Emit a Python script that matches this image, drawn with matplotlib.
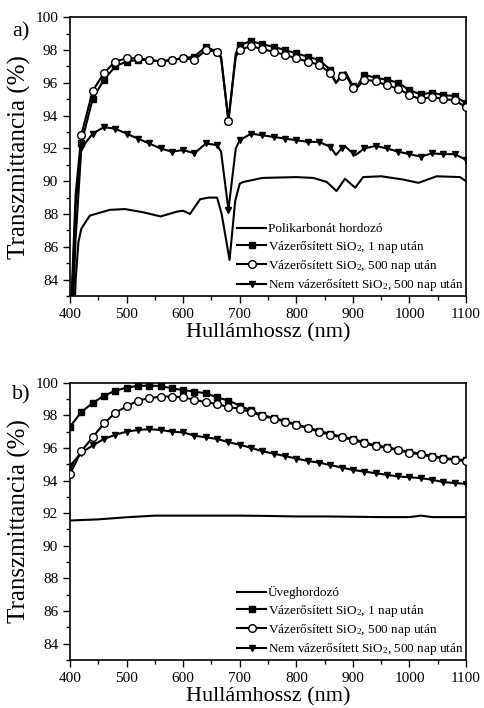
import numpy as np
import matplotlib
matplotlib.use("Agg")
import matplotlib.pyplot as plt
from matplotlib.ticker import MultipleLocator

plt.rcParams['font.family'] = ['Liberation Serif', 'DejaVu Serif']
plt.rcParams['mathtext.fontset'] = 'custom'
plt.rcParams['mathtext.rm'] = 'Liberation Serif'
plt.rcParams['mathtext.default'] = 'regular'

# ---- panel a) polikarbonat ----
wl_a = [400, 410, 420, 440, 460, 480, 500, 520, 540, 560, 580, 600, 620, 640, 660,
        667, 680, 693, 700, 720, 740, 760, 780, 800, 820, 840, 860, 870, 880, 887,
        900, 905, 920, 940, 960, 980, 1000, 1020, 1040, 1060, 1080, 1100]
sq_a = [80.0, 88.5, 92.3, 95.0, 96.2, 97.0, 97.3, 97.4, 97.4, 97.3, 97.4, 97.5, 97.6, 98.2, 97.9,
        97.6, 93.7, 97.8, 98.3, 98.55, 98.35, 98.2, 98.0, 97.8, 97.6, 97.4, 96.8, 96.0, 96.5, 96.65,
        95.8, 95.65, 96.5, 96.3, 96.2, 96.0, 95.55, 95.3, 95.4, 95.25, 95.2, 94.75]
ci_a = [80.5, 89.2, 92.8, 95.5, 96.6, 97.3, 97.5, 97.5, 97.4, 97.3, 97.4, 97.5, 97.4, 98.0, 97.9,
        97.5, 93.7, 97.6, 98.0, 98.25, 98.05, 97.9, 97.7, 97.5, 97.3, 97.1, 96.6, 96.0, 96.4, 96.5,
        95.7, 95.6, 96.2, 96.1, 95.85, 95.65, 95.25, 95.0, 95.15, 95.0, 94.95, 94.5]
tr_a = [78.0, 86.5, 92.0, 92.9, 93.3, 93.2, 92.9, 92.6, 92.3, 92.0, 91.8, 91.9, 91.7, 92.3, 92.2,
        91.8, 88.25, 92.0, 92.5, 92.9, 92.8, 92.7, 92.6, 92.5, 92.4, 92.4, 92.1, 91.6, 92.0, 92.1,
        91.7, 91.6, 92.0, 92.15, 92.0, 91.8, 91.65, 91.5, 91.7, 91.65, 91.65, 91.3]

wl_pc = [400, 405, 410, 415, 420, 435, 470, 497, 530, 560, 590, 600, 612, 630, 645, 660,
         668, 682, 692, 700, 706, 740, 800, 830, 854, 871, 886, 904, 918, 950, 989,
         1016, 1048, 1089, 1100]
pc = [74.0, 79.0, 84.0, 86.3, 87.1, 87.9, 88.25, 88.3, 88.1, 87.85, 88.15, 88.2, 88.0, 88.9, 89.0, 89.0,
      88.0, 85.2, 88.8, 89.85, 89.95, 90.2, 90.25, 90.2, 89.95, 89.4, 90.15, 89.6, 90.25, 90.3, 90.1,
      89.9, 90.3, 90.25, 90.0]

# ---- panel b) uveg ----
wl_b = [400, 420, 440, 460, 480, 500, 520, 540, 560, 580, 600, 620, 640, 660, 680, 700, 720, 740,
        760, 780, 800, 820, 840, 860, 880, 900, 920, 940, 960, 980, 1000, 1020, 1040, 1060, 1080, 1100]
sq_b = [97.3, 98.2, 98.75, 99.2, 99.5, 99.7, 99.8, 99.82, 99.8, 99.65, 99.55, 99.45, 99.35, 99.1, 98.9,
        98.6, 98.3, 98.0, 97.85, 97.65, 97.45, 97.25, 97.05, 96.85, 96.7, 96.55, 96.35, 96.15, 96.05,
        95.9, 95.75, 95.65, 95.5, 95.4, 95.3, 95.25]
ci_b = [94.4, 95.8, 96.65, 97.5, 98.15, 98.55, 98.9, 99.05, 99.15, 99.15, 99.1, 98.95, 98.8, 98.7, 98.5,
        98.4, 98.2, 97.95, 97.8, 97.6, 97.4, 97.2, 97.0, 96.8, 96.65, 96.5, 96.3, 96.1, 96.0, 95.85,
        95.7, 95.6, 95.45, 95.35, 95.25, 95.2]
tr_b = [94.9, 95.7, 96.15, 96.55, 96.8, 97.0, 97.1, 97.15, 97.1, 97.0, 96.95, 96.75, 96.65, 96.55, 96.35,
        96.2, 96.0, 95.8, 95.65, 95.5, 95.35, 95.2, 95.1, 94.95, 94.8, 94.65, 94.55, 94.45, 94.35, 94.25,
        94.2, 94.15, 94.05, 93.9, 93.85, 93.8]
wl_g = [400, 450, 500, 550, 600, 650, 700, 750, 800, 850, 900, 950, 1000, 1020, 1040, 1100]
gl = [91.55, 91.62, 91.75, 91.85, 91.85, 91.85, 91.85, 91.83, 91.8, 91.8, 91.78, 91.76, 91.76, 91.85,
      91.76, 91.76]

lab_a = ['Polikarbonát hordozó', 'Vázerősített SiO$_2$, 1 nap után',
         'Vázerősített SiO$_2$, 500 nap után', 'Nem vázerősített SiO$_2$, 500 nap után']
lab_b = ['Üveghordozó'] + lab_a[1:]

fig = plt.figure(figsize=(4.85, 7.08), dpi=100)
ax1 = fig.add_axes([0.1443, 0.582, 0.8167, 0.3936])
ax2 = fig.add_axes([0.1443, 0.0678, 0.8167, 0.3917])


def marks(wl):
    return [i for i, w in enumerate(wl) if w % 20 == 0]


def panel(ax, wl, sq, ci, tr, wl0, base, labels):
    ax.plot(wl0, base, color='black', lw=1.5, label=labels[0])
    ax.plot(wl, sq, color='black', lw=1.5, marker='s', ms=4.5, markevery=marks(wl), label=labels[1])
    ax.plot(wl, ci, color='black', lw=1.5, marker='o', ms=5.5, mfc='white', mew=1.0,
            markevery=marks(wl), label=labels[2], zorder=3)
    ax.plot(wl, tr, color='black', lw=1.5, marker='v', ms=5, markevery=marks(wl), label=labels[3])
    ax.set_xlim(400, 1100)
    ax.set_ylim(83, 100)
    ax.xaxis.set_major_locator(MultipleLocator(100))
    ax.xaxis.set_minor_locator(MultipleLocator(50))
    ax.yaxis.set_major_locator(MultipleLocator(2))
    ax.yaxis.set_minor_locator(MultipleLocator(1))
    ax.tick_params(which='both', direction='out', labelsize=11, width=1)
    ax.tick_params(which='major', length=5)
    ax.tick_params(which='minor', length=3)
    for s in ax.spines.values():
        s.set_linewidth(1.2)
    ax.set_xlabel('Hullámhossz (nm)', fontsize=16, labelpad=1.5)
    ax.set_ylabel('Transzmittancia (%)', fontsize=18, labelpad=3)
    ax.legend(loc='lower right', frameon=False, fontsize=9.5, handlelength=2.2,
              handletextpad=0.1, labelspacing=0.25, borderaxespad=0.05, borderpad=0.15)


panel(ax1, wl_a, sq_a, ci_a, tr_a, wl_pc, pc, lab_a)
panel(ax2, wl_b, sq_b, ci_b, tr_b, wl_g, gl, lab_b)

fig.text(0.025, 0.955, 'a)', fontsize=16, va='center', ha='left')
fig.text(0.025, 0.442, 'b)', fontsize=16, va='center', ha='left')

fig.savefig('out.png', dpi=100)
